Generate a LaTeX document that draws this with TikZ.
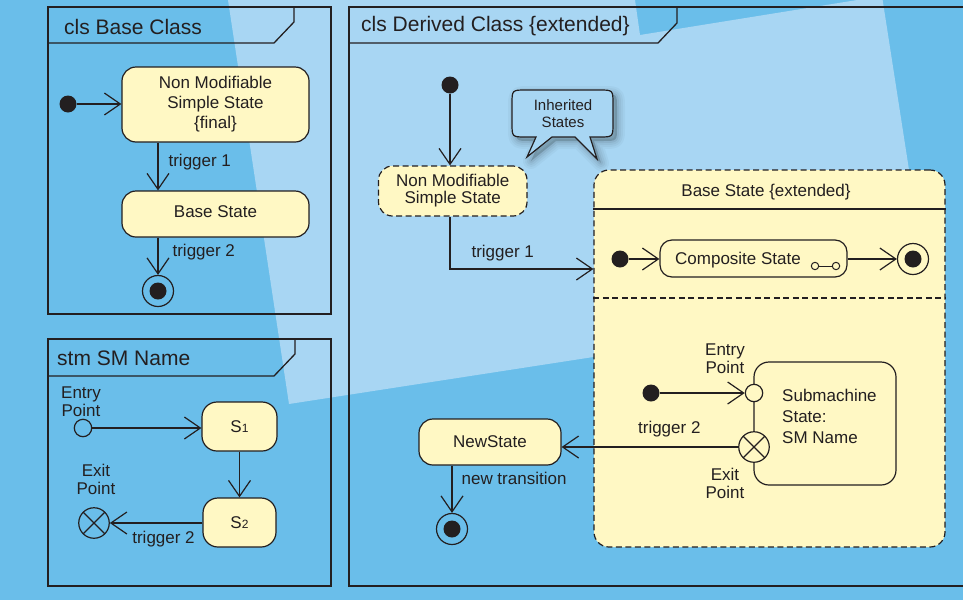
\documentclass[tikz,border=0pt]{standalone}
\usepackage{fontspec}
\setmainfont{Liberation Sans}
\usetikzlibrary{arrows.meta,calc}
\definecolor{bgdark}{HTML}{6ABEEA}
\definecolor{bglight}{HTML}{A8D6F3}
\definecolor{stfill}{HTML}{FFF8C4}
\definecolor{ink}{HTML}{231F20}
\newcommand\setfs[2]{\fontsize{#1}{#2}\selectfont}

\tikzset{
  pics/bubble/.style={code={
    \path[pic actions] (526,90) -- (599,90) .. controls (613,90) .. (613,104)
      -- (613,123) .. controls (613,137) .. (599,137) -- (590,137) -- (597,159)
      -- (575,137) -- (552,137) -- (527,157) -- (536,137) -- (526,137)
      .. controls (512,137) .. (512,123) -- (512,104) .. controls (512,90) .. (526,90) -- cycle;
  }}
}

\begin{document}
\begin{tikzpicture}[x=1pt,y=-1pt,color=ink,
  frame/.style={draw=ink, line width=1.3pt},
  title/.style={font=\setfs{21}{25}, anchor=west, inner sep=0pt},
  state/.style={draw=ink, fill=stfill, rounded corners=14pt, line width=1.2pt,
    align=center, font=\setfs{17}{20}, inner sep=0pt},
  inherited/.style={state, dash pattern=on 6pt off 3.5pt},
  initial/.style={circle, fill=ink, minimum size=17pt, inner sep=0pt},
  final/.style={circle, draw=ink, line width=1.2pt, minimum size=31pt, inner sep=0pt,
    path picture={\fill[ink] (path picture bounding box.center) circle (8.5pt);}},
  entrypt/.style={circle, draw=ink, line width=1.2pt, minimum size=17.4pt, inner sep=0pt},
  exitpt/.style={circle, draw=ink, line width=1.2pt, minimum size=30.5pt, inner sep=0pt,
    path picture={\draw[ink, line width=1.2pt]
      (path picture bounding box.south west) -- (path picture bounding box.north east)
      (path picture bounding box.north west) -- (path picture bounding box.south east);}},
  lbl/.style={font=\setfs{17}{18}, inner sep=0pt, align=center},
  trans/.style={draw=ink, line width=1.2pt, -{Straight Barb[length=16pt, width=22pt]}},
]
\useasboundingbox (0,0) rectangle (963,600);

% backdrop
\fill[bgdark] (0,0) rectangle (963,600);
\fill[bglight] (228,0) -- (635,0) -- (640,35) -- (882,-4) -- (930,305) -- (289,404) -- cycle;

% ---------- cls Base Class ----------
\draw[frame] (48,7) rectangle (331,314);
\draw[frame] (48,43) -- (274,43) -- (294,22) -- (294,7);
\node[title] (t1) at (64,27) {cls Base Class};

\node[initial] (init1) at (68,104) {};
\node[state, minimum width=187pt, minimum height=75pt] (nm1) at (215.5,104.5)
  {Non Modifiable\\Simple State\\\{final\}};
\node[state, minimum width=187pt, minimum height=46pt] (base1) at (215.5,214)
  {\raisebox{2pt}[\height][\depth]{Base State}};
\node[final] (fin1) at (158,291) {};

\draw[trans] (init1) -- (init1 -| nm1.west);
\draw[trans] (fin1 |- nm1.south) -- node[lbl, pos=0.4, anchor=west, xshift=10pt] (l1) {trigger 1} (fin1 |- base1.north);
\draw[trans] (fin1 |- base1.south) -- node[lbl, pos=0.39, anchor=west, xshift=14pt] (l2) {trigger 2} (fin1);

% ---------- stm SM Name ----------
\draw[frame] (48,339) rectangle (331,586);
\draw[frame] (48,376) -- (274,376) -- (295,354) -- (295,339);
\node[title] (t2) at (57,358) {stm SM Name};

\node[lbl] (ep2lbl) at (81,401.5) {Entry\\Point};
\node[entrypt] (entry2) at (83,428) {};
\node[state, rounded corners=15pt, minimum width=75pt, minimum height=49pt] (s1) at (239.5,426.5)
  {S{\setfs{12}{12}1}};
\node[state, rounded corners=15pt, minimum width=73pt, minimum height=49pt] (s2) at (239.5,522.5)
  {S{\setfs{12}{12}2}};
\node[lbl] (xp2lbl) at (96,479.5) {Exit\\Point};
\node[exitpt] (exit2) at (94,523) {};

\draw[trans] (entry2) -- (entry2 -| s1.west);
\draw[trans] (s1.south) -- (s2.north);
\draw[trans] (s2.west |- exit2) -- node[lbl, pos=0.42, yshift=-16pt] (l3) {trigger 2} (exit2);

% ---------- cls Derived Class {extended} ----------
\draw[frame] (985,7) -- (349,7) -- (349,586) -- (985,586);
\draw[frame] (349,43) -- (658,43) -- (677,23) -- (677,7);
\node[title] (t3) at (361,26) {cls Derived Class \{extended\}};

\node[initial] (init3) at (450,85) {};
\node[inherited, minimum width=148.5pt, minimum height=50pt, font=\setfs{17}{17}] (nm3) at (452.75,191)
  {Non Modifiable\\Simple State};

% callout with soft shadow
\foreach \w/\o in {16/0.03,12/0.035,8/0.045,4/0.06}{
  \pic[draw=black, fill=black, line width=\w pt, line join=round, opacity=\o, shift={(4,4)}] {bubble};
}
\pic[draw=ink, fill=bglight, line width=1.2pt] {bubble};
\node[font=\setfs{15}{17}, align=center, inner sep=0pt] (inh) at (563,113.5) {Inherited\\States};

% extended composite state
\node[inherited, rounded corners=15pt, minimum width=351pt, minimum height=377pt] (bse) at (769.5,358.5) {};
\node[lbl] (bsetitle) at (766,192) {Base State \{extended\}};
\coordinate (sepA) at (0,209);
\coordinate (sepB) at (0,298);
\draw[line width=1.2pt] (bse.west |- sepA) -- (bse.east |- sepA);
\draw[line width=1.2pt, dash pattern=on 6pt off 3.5pt] (bse.west |- sepB) -- (bse.east |- sepB);

% region 1
\node[initial] (init4) at (620,259) {};
\node[state, rounded corners=12pt, minimum width=187pt, minimum height=37pt] (comp) at (753.5,258.5)
  {\raisebox{-2pt}[\height][\depth]{Composite State}\hspace{31pt}};
\draw[line width=1pt, fill=stfill] (815,266) circle (3.7pt);
\draw[line width=1pt, fill=stfill] (836,266) circle (3.7pt);
\draw[line width=1pt] (818.7,266) -- (832.3,266);
\node[final] (fin4) at (913,259) {};
\draw[trans] (init4) -- (comp.west |- init4);
\draw[trans] (comp.east |- fin4) -- (fin4);

% region 2
\node[state, rounded corners=15pt, minimum width=142pt, minimum height=123pt] (sub) at (825,423.5) {};
\node[lbl, anchor=west, align=left, font=\setfs{17}{21}] (subtxt) at (782,416)
  {Submachine\\State:\\SM Name};
\node[initial] (init5) at (651,393) {};
\node[entrypt, fill=stfill] (entry4) at (754,393) {};
\node[exitpt, fill=stfill] (exit4) at (754,447) {};
\node[lbl] (ep4lbl) at (725,358.5) {Entry\\Point};
\node[lbl] (xp4lbl) at (725,483.5) {Exit\\Point};
\draw[trans] (init5) -- (entry4);

% transitions leaving the extended state
\draw[trans] (init3) -- (init3 |- nm3.north);
\coordinate (turn) at (0,269);
\draw[trans] (init3 |- nm3.south) -- (init3 |- turn)
  -- node[lbl, pos=0.146, anchor=west, yshift=16pt] (l4) {trigger 1} (bse.west |- turn);

\node[state, minimum width=142pt, minimum height=46pt] (newst) at (490,442) {NewState};
\node[final] (fin5) at (452,529) {};
\draw[trans] (exit4) -- node[lbl, pos=0.39, yshift=18pt] (l5) {trigger 2} (newst.east |- exit4);
\draw[trans] (fin5 |- newst.south) -- node[lbl, pos=0.27, anchor=west, xshift=9pt] (l6) {new transition} (fin5);

\end{tikzpicture}
\end{document}
